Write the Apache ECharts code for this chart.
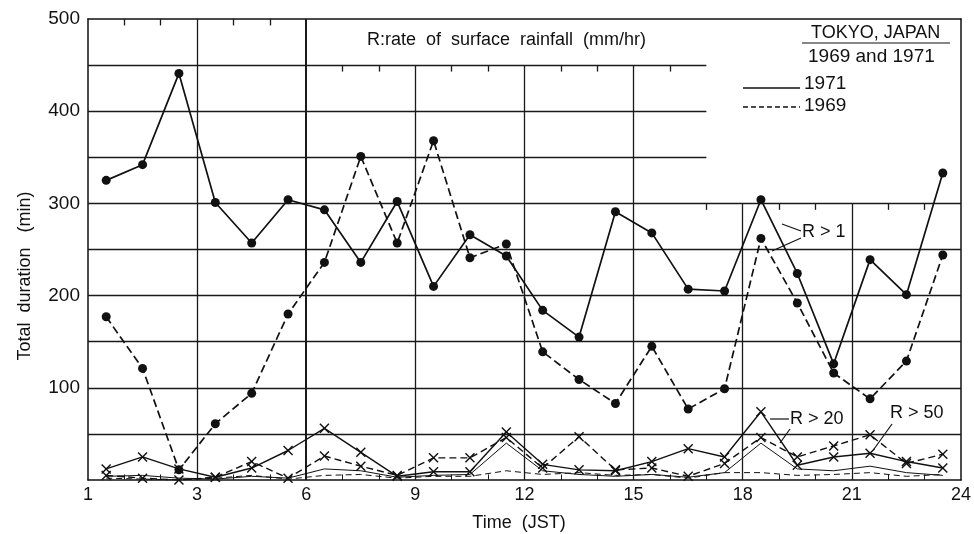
<!DOCTYPE html>
<html>
<head>
<meta charset="utf-8">
<script src="https://cdn.jsdelivr.net/npm/echarts@6/dist/echarts.min.js"></script>
<style>
html,body{margin:0;padding:0;background:#fff;}
#c{width:974px;height:534px;}
</style>
</head>
<body>
<div id="c"></div>
<script>
// ---- data ----
const hours = [0.5,1.5,2.5,3.5,4.5,5.5,6.5,7.5,8.5,9.5,10.5,11.5,12.5,13.5,14.5,15.5,16.5,17.5,18.5,19.5,20.5,21.5,22.5,23.5];
const r1_1971  = [325,342,441,301,257,304,293,236,302,210,266,243,184,155,291,268,207,205,304,224,126,239,201,333];
const r1_1969  = [177,121,11,61,94,180,236,351,257,368,241,256,139,109,83,145,77,99,262,192,116,88,129,244];
const r20_1971 = [12,25,12,3,13,32,56,30,4,9,9,52,17,11,10,20,34,25,74,16,25,29,20,13];
const r20_1969 = [5,2,0,3,20,2,26,15,5,24,24,46,13,47,11,13,4,18,46,25,37,49,18,28];
const r50_1971 = [4,5,2,1,4,2,12,10,3,5,6,40,10,6,4,6,3,8,40,12,10,15,8,5];
const r50_1969 = [2,1,0,2,5,1,5,6,2,4,4,10,6,8,5,6,2,8,8,5,6,8,4,6];
const xTickLabels = ['1','3','6','9','12','15','18','21','24'];
const yTickLabels = ['','100','200','300','400','500'];

// grid structure (value units)
const hGridPartial = [450,400,350];   // end at hour 17
const hGridFull = [300,250,200,150,100,50];
const vGridFull = [3,6];
const vGridFrom450 = [9,12,15];
const vGridFrom300 = [18,21];
const topTicks = [1,2,4,5];
const midTicks = [7,8,10,11,13,14,16];
const lowTicks = [17,19,20,22,23];
const baseTicks = [1,2,4,5,7,8,10,11,13,14,16,17,19,20,22,23];

const FONT = '"Liberation Sans", Arial, Helvetica, sans-serif';
const ink = '#111';

function pts(vals){ return hours.map((h,i)=>[h, vals[i]]); }

const gl = [];
function seg(x1,y1,x2,y2,w){ gl.push([{coord:[x1,y1], lineStyle:{width:w||1.3,color:'#1a1a1a',type:'solid'}},{coord:[x2,y2]}]); }
hGridPartial.forEach(y=>seg(0,y,17,y));
hGridFull.forEach(y=>seg(0,y,24,y));
vGridFull.forEach(x=>seg(x,0,x,500,x===6?2:1.3));
vGridFrom450.forEach(x=>seg(x,0,x,450));
vGridFrom300.forEach(x=>seg(x,0,x,300));
topTicks.forEach(x=>seg(x,500,x,493));
midTicks.forEach(x=>seg(x,450,x,443));
lowTicks.forEach(x=>seg(x,300,x,293));
baseTicks.forEach(x=>seg(x,0,x,6,1));

const XSYM = 'path://M0,1L1,0L5,4L9,0L10,1L6,5L10,9L9,10L5,6L1,10L0,9L4,5Z';

function mk(name, vals, dash, sym, width, size){
  return {
    name, type:'line', data:pts(vals), z:5,
    symbol: sym, symbolSize: size, showAllSymbol:true,
    itemStyle:{color:ink},
    lineStyle:{color:ink, width:width, type: dash || 'solid'},
    emphasis:{disabled:true}
  };
}

const series = [
  mk('R>1 1971', r1_1971, null, 'circle', 1.7, 9),
  mk('R>1 1969', r1_1969, [8,4], 'circle', 1.7, 9),
  mk('R>20 1971', r20_1971, null, XSYM, 1.4, 10),
  mk('R>20 1969', r20_1969, [7,4], XSYM, 1.4, 10),
  mk('R>50 1971', r50_1971, null, 'none', 1, 0),
  mk('R>50 1969', r50_1969, [6,4], 'none', 1, 0)
];
series[0].markLine = {silent:true, symbol:'none', label:{show:false}, animation:false, data:gl, z:1};

function txt(s, x, y, size, align){
  return {type:'text', style:{text:s, x:x, y:y, fill:ink, font:size+'px '+FONT, align:align||'left', verticalAlign:'middle'}};
}

const chart = echarts.init(document.getElementById('c'), null, {renderer:'canvas'});
chart.setOption({
  animation:false,
  backgroundColor:'#fff',
  grid:{left:88, right:12, top:19, bottom:54},
  xAxis:[{
    type:'value', min:0, max:24, interval:3,
    axisLine:{show:true, lineStyle:{color:ink, width:1.5}},
    axisTick:{show:false},
    splitLine:{show:false},
    axisLabel:{color:ink, fontFamily:FONT, fontSize:18, margin:6,
      formatter:(v)=>xTickLabels[Math.round(v/3)]}
  },{
    type:'value', min:0, max:24, position:'top',
    axisLine:{show:true, onZero:false, lineStyle:{color:ink, width:1.5}},
    axisTick:{show:false}, axisLabel:{show:false}, splitLine:{show:false}
  }],
  yAxis:[{
    type:'value', min:0, max:500, interval:100,
    axisLine:{show:true, lineStyle:{color:ink, width:1.5}},
    axisTick:{show:false},
    splitLine:{show:false},
    axisLabel:{color:ink, fontFamily:FONT, fontSize:19, margin:8,
      formatter:(v)=>yTickLabels[Math.round(v/100)]}
  },{
    type:'value', min:0, max:500, position:'right',
    axisLine:{show:true, onZero:false, lineStyle:{color:ink, width:1.5}},
    axisTick:{show:false}, axisLabel:{show:false}, splitLine:{show:false}
  }],
  series: series,
  graphic:[
    txt('R:rate  of  surface  rainfall  (mm/hr)', 367, 40, 18),
    txt('TOKYO, JAPAN', 811, 33, 18),
    {type:'line', shape:{x1:802,y1:43,x2:950,y2:43}, style:{stroke:ink, lineWidth:1.2}},
    txt('1969 and 1971', 808, 57, 19),
    {type:'line', shape:{x1:743,y1:88,x2:800,y2:88}, style:{stroke:ink, lineWidth:1.3}},
    txt('1971', 804, 84, 19),
    {type:'line', shape:{x1:743,y1:107,x2:800,y2:107}, style:{stroke:ink, lineWidth:1.3, lineDash:[5,3]}},
    txt('1969', 804, 106, 19),
    txt('R > 1', 802, 232, 18),
    {type:'line', shape:{x1:782,y1:224,x2:801,y2:231}, style:{stroke:ink, lineWidth:1.2}},
    {type:'line', shape:{x1:801,y1:238,x2:772,y2:251}, style:{stroke:ink, lineWidth:1.2}},
    txt('R > 20', 790, 419, 18),
    {type:'line', shape:{x1:770,y1:419,x2:789,y2:419}, style:{stroke:ink, lineWidth:1.2}},
    {type:'line', shape:{x1:790,y1:429,x2:780,y2:443}, style:{stroke:ink, lineWidth:1.2}},
    txt('R > 50', 890, 413, 18),
    {type:'line', shape:{x1:892,y1:424,x2:874,y2:449}, style:{stroke:ink, lineWidth:1.2}},
    txt('Time  (JST)', 519, 523, 18, 'center'),
    {type:'text', x:25, y:276, rotation:Math.PI/2,
      style:{text:'Total  duration   (min)', x:0, y:0, fill:ink, font:'18px '+FONT, align:'center', verticalAlign:'middle'}}
  ]
});
</script>
</body>
</html>
